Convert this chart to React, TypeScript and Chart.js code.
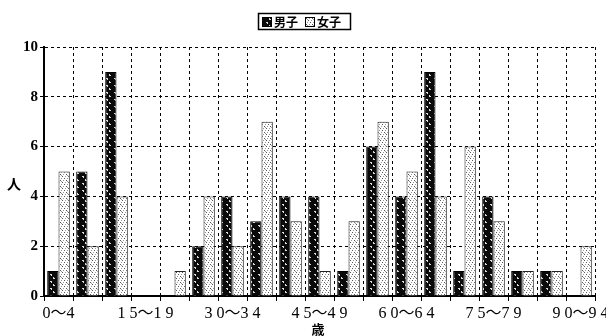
import React, { useEffect, useRef } from "react";
import { Chart, registerables } from "chart.js";

Chart.register(...registerables);

const categories = [
  "0～4", "5～9", "10～14", "15～19", "20～24", "25～29", "30～34", "35～39",
  "40～44", "45～49", "50～54", "55～59", "60～64", "65～69", "70～74",
  "75～79", "80～84", "85～89", "90～94",
];
const tickLabels = ["0～4", "1 5～1 9", "3 0～3 4", "4 5～4 9", "6 0～6 4", "7 5～7 9", "9 0～9 4"];
const maleValues = [1, 5, 9, 0, 0, 2, 4, 3, 4, 4, 1, 6, 4, 9, 1, 4, 1, 1, 0];
const femaleValues = [5, 2, 4, 0, 1, 4, 2, 7, 3, 1, 3, 7, 5, 4, 6, 3, 1, 1, 2];
const seriesNames = ["男子", "女子"];
const yTitle = "人";
const xTitle = "歳";

function makeMalePattern(ctx: CanvasRenderingContext2D) {
  const c = document.createElement("canvas");
  c.width = 8;
  c.height = 7;
  const p = c.getContext("2d")!;
  p.fillStyle = "#0a0a0a";
  p.fillRect(0, 0, 8, 7);
  p.fillStyle = "#dcdcdc";
  p.fillRect(2, 1, 2, 1);
  p.fillRect(3, 2, 1, 1);
  p.fillRect(5, 4, 1, 2);
  p.fillRect(6, 5, 1, 1);
  return ctx.createPattern(c, "repeat")!;
}

function makeFemalePattern(ctx: CanvasRenderingContext2D) {
  const c = document.createElement("canvas");
  c.width = 6;
  c.height = 6;
  const p = c.getContext("2d")!;
  p.fillStyle = "#ffffff";
  p.fillRect(0, 0, 6, 6);
  p.fillStyle = "#555";
  p.fillRect(0, 0, 1, 1);
  p.fillRect(2, 2, 1, 1);
  p.fillRect(4, 4, 1, 1);
  p.fillStyle = "#999";
  p.fillRect(3, 0, 1, 1);
  p.fillRect(5, 2, 1, 1);
  p.fillRect(1, 4, 1, 1);
  p.fillRect(1, 1, 1, 1);
  return ctx.createPattern(c, "repeat")!;
}

export default function App() {
  const ref = useRef<HTMLCanvasElement>(null);

  useEffect(() => {
    const canvas = ref.current!;
    const ctx = canvas.getContext("2d")!;
    const malePat = makeMalePattern(ctx);
    const femalePat = makeFemalePattern(ctx);

    const decor = {
      id: "decor",
      afterDraw(chart: any) {
        const c = chart.ctx as CanvasRenderingContext2D;
        const area = chart.chartArea;
        c.save();
        // legend box
        const bx = 258, by = 13, bw = 92, bh = 16;
        c.fillStyle = "#fff";
        c.fillRect(bx, by, bw, bh);
        c.strokeStyle = "#000";
        c.lineWidth = 1.5;
        c.strokeRect(bx + 0.5, by + 0.5, bw, bh);
        c.lineWidth = 1;
        c.fillStyle = malePat;
        c.fillRect(bx + 4, by + 4, 9, 9);
        c.strokeRect(bx + 4.5, by + 4.5, 9, 9);
        c.fillStyle = femalePat;
        c.fillRect(bx + 47, by + 4, 9, 9);
        c.strokeRect(bx + 47.5, by + 4.5, 9, 9);
        c.fillStyle = "#000";
        c.font = 'bold 12px "Noto Sans CJK JP"';
        c.textBaseline = "middle";
        c.textAlign = "left";
        c.fillText(seriesNames[0], bx + 16, by + 9);
        c.fillText(seriesNames[1], bx + 59, by + 9);
        // axis titles
        c.font = 'bold 14px "Noto Sans CJK JP"';
        c.textAlign = "center";
        c.fillText(yTitle, 14, (area.top + area.bottom) / 2 + 12);
        c.font = 'bold 13px "Noto Sans CJK JP"';
        c.fillText(xTitle, 318, 329);
        c.restore();
      },
    };

    const bw = (ctx2: any) => (ctx2.raw === 0 ? 0 : 1);

    const chart = new Chart(canvas, {
      type: "bar",
      data: {
        labels: categories,
        datasets: [
          {
            label: seriesNames[0],
            data: maleValues,
            backgroundColor: malePat,
            borderColor: "#000",
            borderWidth: bw,
            categoryPercentage: 0.78,
            barPercentage: 1.0,
          },
          {
            label: seriesNames[1],
            data: femaleValues,
            backgroundColor: femalePat,
            borderColor: "#222",
            borderWidth: bw,
            categoryPercentage: 0.78,
            barPercentage: 1.0,
          },
        ],
      },
      options: {
        animation: false,
        responsive: false,
        layout: { padding: { left: 0, right: 11, top: 47, bottom: 0 } },
        plugins: {
          legend: { display: false },
          tooltip: { enabled: false },
          title: { display: false },
        },
        scales: {
          x: {
            offset: true,
            grid: {
              offset: true,
              color: "#000",
              lineWidth: 1,
              tickLength: 5,
              tickColor: "#000",
              drawOnChartArea: true,
            },
            border: { display: true, color: "#000", width: 2, dash: [3, 3] },
            ticks: {
              autoSkip: false,
              maxRotation: 0,
              minRotation: 0,
              padding: 3,
              color: "#000",
              font: { family: '"Liberation Serif", "Noto Sans CJK JP"', size: 16 },
              callback: (_v: any, i: number) => (i % 3 === 0 ? tickLabels[i / 3] : ""),
            },
            afterFit: (s: any) => {
              s.height = 40;
              s.paddingLeft = 0;
              s.paddingRight = 0;
            },
          },
          y: {
            min: 0,
            max: 10,
            ticks: {
              stepSize: 2,
              padding: 2,
              color: "#000",
              font: { family: '"Liberation Serif"', size: 15, weight: "bold" },
            },
            grid: {
              color: "#000",
              lineWidth: 1,
              tickLength: 4,
              tickColor: "#000",
            },
            border: { display: true, color: "#000", width: 2, dash: [3, 3] },
            afterFit: (s: any) => {
              s.width = 44;
              s.paddingTop = 0;
              s.paddingBottom = 0;
            },
          },
        },
      },
      plugins: [decor],
    });
    return () => chart.destroy();
  }, []);

  return (
    <div style={{ position: "fixed", left: 0, top: 0, width: 606, height: 336, background: "#fff" }}>
      <canvas ref={ref} width={606} height={336} style={{ width: 606, height: 336, display: "block" }} />
    </div>
  );
}
